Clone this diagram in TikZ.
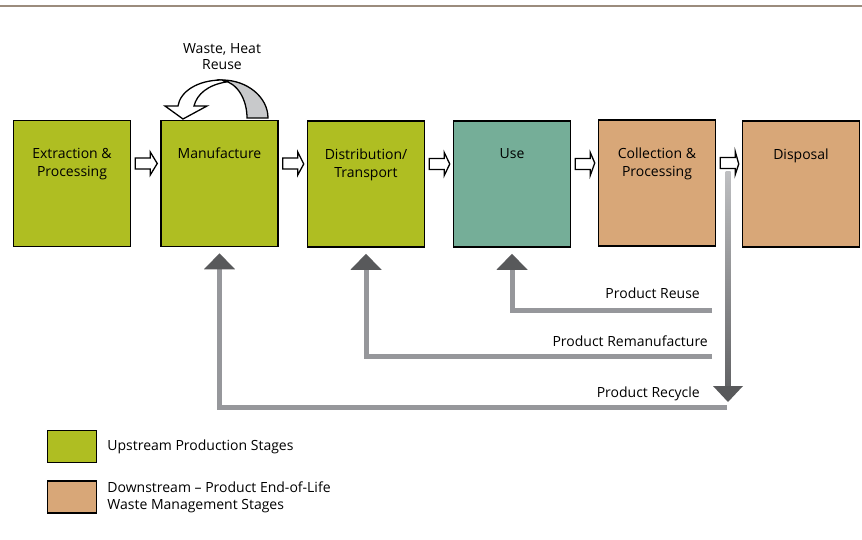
\documentclass[tikz,border=0pt]{standalone}
\usepackage{fontspec}
\setmainfont{Open Sans}
\usepackage{tikz}
\usetikzlibrary{shapes,arrows}
\usetikzlibrary{arrows.meta}
\usetikzlibrary{calc,positioning}
\definecolor{upgreen}{RGB}{175,190,34}
\definecolor{useteal}{RGB}{117,174,152}
\definecolor{downtan}{RGB}{216,167,120}
\definecolor{returngray}{RGB}{150,151,155}
\definecolor{returndark}{RGB}{88,89,91}
\definecolor{heatgray}{RGB}{200,201,203}
\definecolor{rulebrown}{RGB}{155,140,125}
\newcommand{\lcstage}[4] {\node at (#1) (#2) [stage, fill=#3] {}; \node at ($(#2.north)+(0,28)$) [stagelabel] {#4};}
\newcommand{\lcstep}[2] {\draw [steparrow] ($(#1.east)+(4,-25.5)$) -- ($(#1.east)+(19,-25.5)$) -- ($(#1.east)+(19,-31.5)$) -- ($(#2.west)+(-3,-20)$) -- ($(#1.east)+(19,-8.5)$) -- ($(#1.east)+(19,-14.5)$) -- ($(#1.east)+(4,-14.5)$) -- cycle;}
\newcommand{\lcreturn}[4] {\draw [returnline] (#1) -| (#2); \node at (#3) [returnlabel] {#4};}

\begin{document}
\begin{tikzpicture}[x=1pt,y=-1pt,
  stage/.style={rectangle, draw, line width=1.5pt, minimum width=117pt, minimum height=126pt},
  stagelabel/.style={anchor=north, align=center, inner sep=0pt, font=\fontsize{14}{18}\selectfont},
  steparrow/.style={draw, fill=white, line width=1.3pt, line join=miter},
  returnline/.style={returngray, line width=5pt, shorten >=6pt, -{Triangle[width=30pt,length=16pt,color=returndark]}},
  returnlabel/.style={anchor=east, inner sep=0pt, font=\fontsize{14}{18}\selectfont},
  keybox/.style={rectangle, draw, line width=1.5pt, minimum width=49pt, minimum height=32pt},
  keytext/.style={anchor=west, align=left, inner sep=0pt, font=\fontsize{14}{17}\selectfont}]
\useasboundingbox (0,0) rectangle (862,540);
\draw [line width=2pt, rulebrown] (0,6.5) -- (862,6.5);

\lcstage {72,183.5} {extract} {upgreen} {Extraction \&\\Processing};
\lcstage {219.5,183.5} {manu} {upgreen} {Manufacture};
\lcstage {366,184} {distrib} {upgreen} {Distribution/\\Transport};
\lcstage {512,184} {use} {useteal} {Use};
\lcstage {657,183} {collect} {downtan} {Collection \&\\Processing};
\lcstage {801,184} {dispose} {downtan} {Disposal};

\lcstep{extract}{manu};
\lcstep{manu}{distrib};
\lcstep{distrib}{use};
\lcstep{use}{collect};
\lcstep{collect}{dispose};

% waste and heat back into manufacture
\draw [line width=1.3pt, fill=heatgray] (268,118) .. controls (268,97) and (247,80) .. (222,80) .. controls (238,83) and (247,100) .. (247,118) -- cycle;
\draw [line width=1.3pt, fill=white, line join=miter] (222,80) .. controls (197,80) and (180,92) .. (178,106) -- (165,106) -- (183,119) -- (207,106) -- (194,106) .. controls (197,94) and (208,85) .. (226,82) -- cycle;
\node at (222,57) (heat) [align=center, inner sep=0pt, font=\fontsize{14}{16}\selectfont] {Waste, Heat\\Reuse};

% returns to earlier stages
\coordinate (reuse) at (712,310);
\coordinate (reman) at (712,356);
\coordinate (recycle) at (727,407);
\coordinate (recycletop) at (728,172);
\coordinate (recyclebot) at (728,402);
\shade [top color=heatgray!80!returngray, bottom color=returndark!85!returngray] ($(recycletop)+(-2.5,0)$) rectangle ($(recyclebot)+(2.5,-14)$);
\fill [returndark] ($(recyclebot)+(-15,-16)$) -- ($(recyclebot)+(15,-16)$) -- (recyclebot) -- cycle;
\lcreturn{reuse}{use.south}{700,293}{Product Reuse};
\lcreturn{reman}{distrib.south}{708,341}{Product Remanufacture};
\lcreturn{recycle}{manu.south}{700,394}{Product Recycle};

\node at (72,446.5) (upkey) [keybox, fill=upgreen] {};
\node [keytext, right=10pt of upkey] {Upstream Production Stages};
\node at (72,497) (downkey) [keybox, fill=downtan] {};
\node [keytext, right=10pt of downkey] {Downstream -- Product End-of-Life\\Waste Management Stages};
\end{tikzpicture}
\end{document}
